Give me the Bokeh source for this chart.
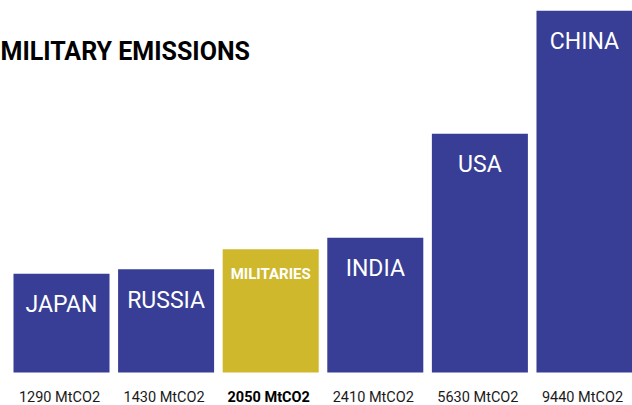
from bokeh.plotting import figure
from bokeh.models import Range1d, ColumnDataSource, Label
from bokeh.core.properties import value
from bokeh.embed import file_html
from bokeh.resources import INLINE

# data
categories = ["JAPAN", "RUSSIA", "MILITARIES", "INDIA", "USA", "CHINA"]
emissions = [1290, 1430, 2050, 2410, 5630, 9440]
value_labels = ["1290 MtCO2", "1430 MtCO2", "2050 MtCO2", "2410 MtCO2", "5630 MtCO2", "9440 MtCO2"]
highlight = "MILITARIES"
title_text = "MILITARY EMISSIONS"

BLUE = "#383E95"
GOLD = "#CFB82C"
BASE = -1766

xs = list(range(len(categories)))
colors = [GOLD if c == highlight else BLUE for c in categories]
src = ColumnDataSource(dict(x=xs, top=emissions, cat=categories, lab=value_labels, color=colors))

p = figure(width=632, height=405, output_backend="svg", toolbar_location=None,
           x_range=Range1d(-0.5832, 5.459), y_range=Range1d(-2788, 9759),
           min_border=0, outline_line_color=None)
p.axis.visible = False
p.grid.visible = False
p.background_fill_color = "white"
p.border_fill_color = "white"

p.vbar(x="x", top="top", bottom=BASE, width=0.918, color="color", line_color=None, source=src)

normal = [i for i, c in enumerate(categories) if c != highlight]
hi = [i for i, c in enumerate(categories) if c == highlight]

p.text(x=[xs[i] for i in normal], y=[emissions[i] for i in normal],
       text=[categories[i] for i in normal], y_offset=31,
       text_align="center", text_baseline="middle", text_color="white",
       text_font=value("Roboto"), text_font_size="23px")
p.text(x=[xs[i] for i in hi], y=[emissions[i] for i in hi],
       text=[categories[i] for i in hi], y_offset=25,
       text_align="center", text_baseline="middle", text_color="white",
       text_font=value("Roboto"), text_font_style="bold", text_font_size="15px")

p.text(x=[xs[i] for i in normal], y=[BASE] * len(normal),
       text=[value_labels[i] for i in normal], y_offset=25, x_offset=-2,
       text_align="center", text_baseline="middle", text_color="#1a1a1a",
       text_font=value("Roboto"), text_font_size="14.5px")
p.text(x=[xs[i] for i in hi], y=[BASE] * len(hi),
       text=[value_labels[i] for i in hi], y_offset=25, x_offset=-2,
       text_align="center", text_baseline="middle", text_color="#000000",
       text_font=value("Roboto"), text_font_style="bold", text_font_size="14.5px")

p.add_layout(Label(x=0, x_units="screen", y=8180, text=title_text,
                   text_font="Roboto", text_font_style="bold", text_font_size="25px",
                   text_color="#000000", text_baseline="alphabetic"))

open("out.html", "w").write(file_html(p, INLINE))
